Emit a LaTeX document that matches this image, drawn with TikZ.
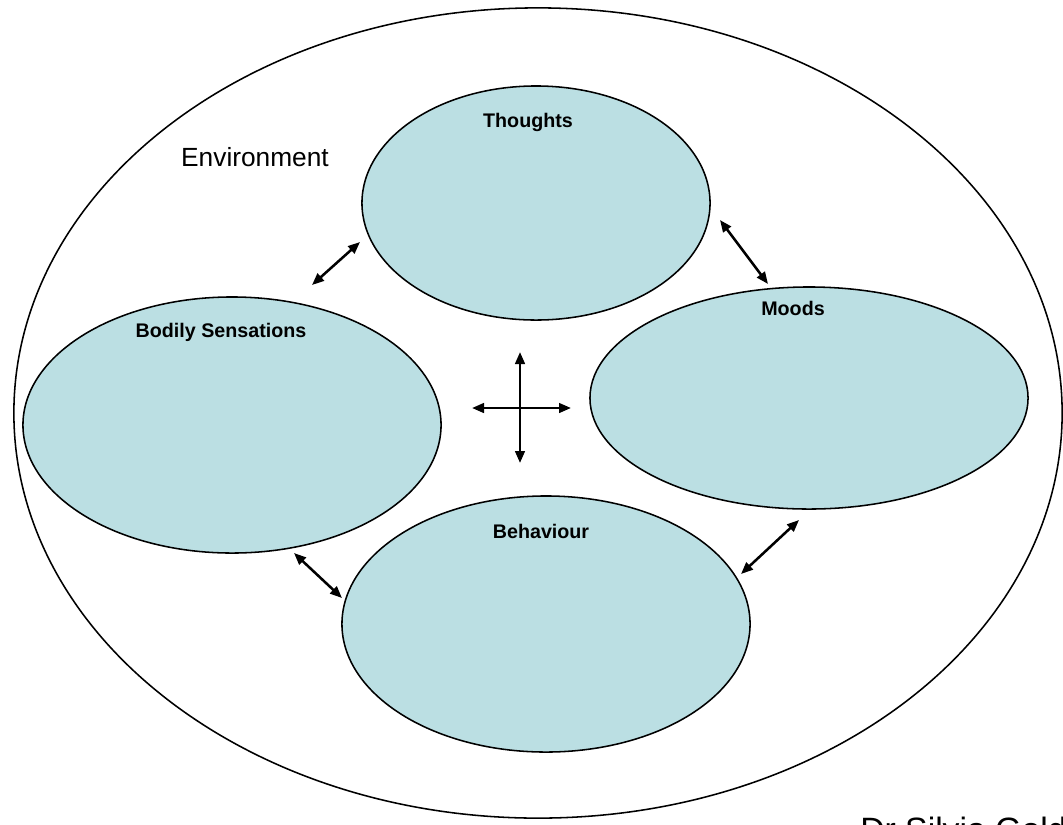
\documentclass[tikz,border=0pt]{standalone}
\usepackage{fontspec}
\setmainfont{Liberation Sans}
\usetikzlibrary{shapes.geometric,arrows.meta,positioning,calc}
\definecolor{moodblue}{RGB}{187,223,227}
\tikzset{
  % Mood area: filled ellipse, label sits near the top
  area/.style={draw, ellipse, fill=moodblue, line width=1.1pt, inner sep=0pt},
  % Environment: big open ellipse round everything
  envring/.style={draw, ellipse, line width=1.1pt, inner sep=0pt},
  % Labels
  arealabel/.style={font=\fontsize{14}{16}\selectfont\bfseries, anchor=base, inner sep=0pt},
  envlabel/.style={font=\fontsize{18.7}{22}\selectfont, anchor=base, inner sep=0pt},
  % Two-way link
  link/.style={>={Triangle[length=3mm, width=2.4mm]}, <->, line width=1.8pt}
}

\begin{document}
\begin{tikzpicture}[x=0.025cm, y=-0.025cm]
\useasboundingbox (0,0) rectangle (1063,824);

% ============== Environment ==============
\node[envring, minimum width=26.2cm, minimum height=20.25cm] (env) at (538,413) {};
\node[envlabel] (envtxt) at (255,166) {Environment};

% ============== The four areas ==============
\node[area, minimum width=8.7cm, minimum height=5.85cm] (thoughts) at (536,203) {};
\node[area, minimum width=10.95cm, minimum height=5.55cm] (moods) at (809,398) {};
\node[area, minimum width=10.45cm, minimum height=6.4cm] (body) at (232,425) {};
\node[area, minimum width=10.2cm, minimum height=6.4cm] (behav) at (546,624) {};

\node[arealabel] (thoughtstxt) at (528,127) {Thoughts};
\node[arealabel] (moodstxt) at (793,315) {Moods};
\node[arealabel] (bodytxt) at (221,337) {Bodily Sensations};
\node[arealabel] (behavtxt) at (541,538) {Behaviour};

% ============== Links between areas ==============
\coordinate (tb1) at (312,285); \coordinate (tb2) at (360,242);
\coordinate (tm1) at (720,220); \coordinate (tm2) at (768,284);
\coordinate (bb1) at (294,553); \coordinate (bb2) at (342,598);
\coordinate (bm1) at (741,574); \coordinate (bm2) at (799,520);
\draw[link] (tb1) -- (tb2);
\draw[link] (tm1) -- (tm2);
\draw[link] (bb1) -- (bb2);
\draw[link] (bm1) -- (bm2);

% centre cross
\coordinate (cw) at (472,408); \coordinate (ce) at (571,408);
\coordinate (cn) at (520,352); \coordinate (cs) at (520,463);
\draw[link] (cw) -- (ce);
\draw[link] (cn) -- (cs);

% ============== Credit, runs off the page ==============
\node[envlabel, font=\fontsize{24}{28}\selectfont, anchor=north west] (credit) at (860,817) {Dr Silvia Goldman};

\end{tikzpicture}
\end{document}
